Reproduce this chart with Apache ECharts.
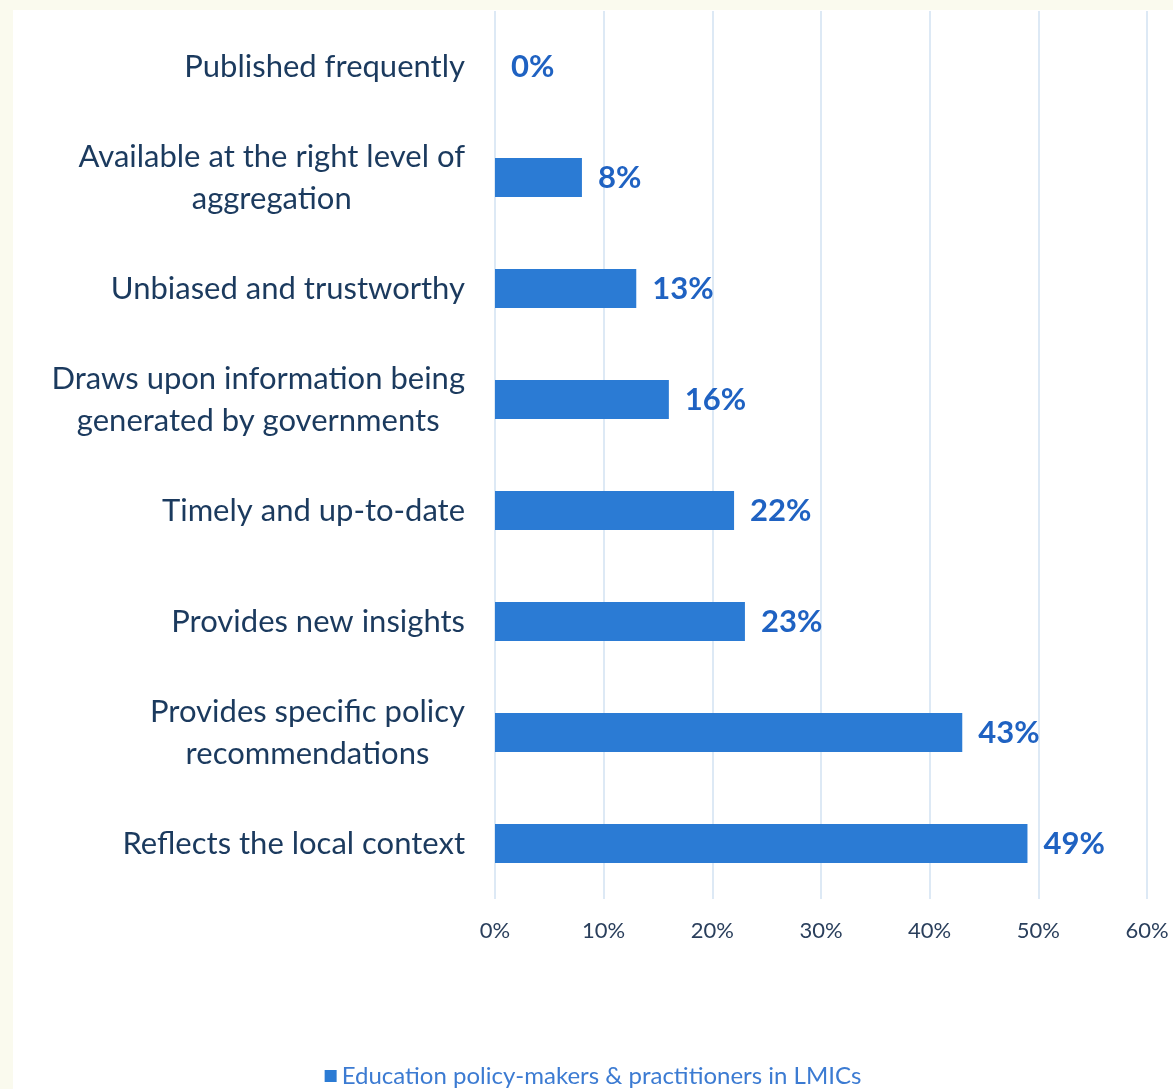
<!DOCTYPE html>
<html>
<head>
<meta charset="utf-8">
<script src="https://cdn.jsdelivr.net/npm/echarts@6/dist/echarts.min.js"></script>
<style>
html,body{margin:0;padding:0;width:1173px;height:1089px;background:#fafaee;overflow:hidden;}
#chart{position:absolute;left:13px;top:10px;width:1160px;height:1079px;background:#ffffff;}
</style>
</head>
<body>
<div id="chart"></div>
<script>
// Categories listed bottom-to-top (ECharts category order on a vertical axis)
const categories = [
  "Reflects the local context",
  "Provides specific policy\nrecommendations",
  "Provides new insights",
  "Timely and up-to-date",
  "Draws upon information being\ngenerated by governments",
  "Unbiased and trustworthy",
  "Available at the right level of\naggregation",
  "Published frequently"
];
const values = [49, 43, 23, 22, 16, 13, 8, 0];
const seriesName = "Education policy-makers & practitioners in LMICs";
const xTicks = [0, 10, 20, 30, 40, 50, 60];

const chart = echarts.init(document.getElementById('chart'), null, {renderer: 'canvas'});
const font = 'Lato, "Open Sans", sans-serif';
chart.setOption({
  animation: false,
  backgroundColor: '#ffffff',
  grid: {left: 482, right: 26, top: 1, bottom: 190, containLabel: false},
  legend: {
    top: 1054,
    padding: 0,
    left: 'center',
    itemWidth: 12, itemHeight: 12,
    icon: 'rect',
    itemGap: 6,
    textStyle: {color: '#3c7bd2', fontSize: 24, fontFamily: font},
    data: [seriesName]
  },
  xAxis: {
    type: 'value',
    min: xTicks[0], max: xTicks[xTicks.length - 1], interval: 10,
    axisLine: {show: false},
    axisTick: {show: false},
    splitLine: {show: true, lineStyle: {color: '#d2e2f2', width: 1.5}},
    axisLabel: {
      color: '#2a3f5c', fontSize: 22, fontFamily: font, margin: 21,
      formatter: v => v + '%'
    }
  },
  yAxis: {
    type: 'category',
    data: categories,
    axisLine: {show: false},
    axisTick: {show: false},
    axisLabel: {
      margin: 30,
      fontFamily: font,
      formatter: function (v) {
        return v.split('\n').map(l => '{c|' + l + '}').join('\n');
      },
      rich: {
        c: {align: 'center', color: '#1b3a5e', fontSize: 31, lineHeight: 42, fontFamily: font}
      }
    }
  },
  series: [{
    name: seriesName,
    type: 'bar',
    data: values,
    barWidth: 39,
    itemStyle: {color: '#2b7bd4'},
    label: {
      show: true, position: 'right', distance: 16,
      color: '#1f62c2', fontSize: 31, fontWeight: 'bold', fontFamily: font,
      formatter: p => p.value + '%'
    }
  }]
});
</script>
</body>
</html>
